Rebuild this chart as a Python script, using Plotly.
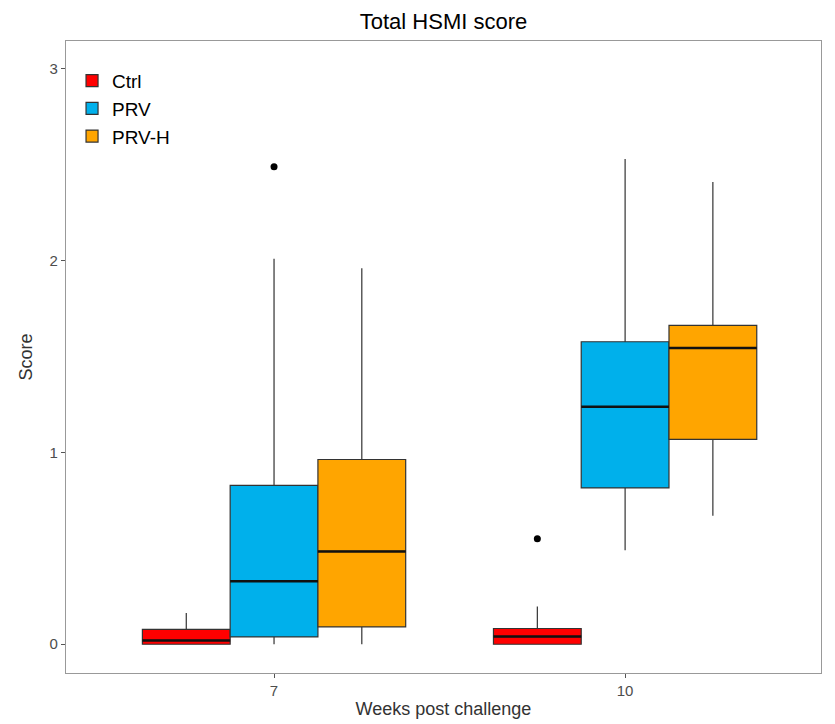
import plotly.graph_objects as go

weeks = ["7", "10"]
groups = ["Ctrl", "PRV", "PRV-H"]
colors = {"Ctrl": "#FF0000", "PRV": "#00B0EB", "PRV-H": "#FFA500"}

# stats per group, order follows weeks
lower = {"Ctrl": [0.0, 0.0], "PRV": [0.0, 0.49], "PRV-H": [0.0, 0.67]}
q1 = {"Ctrl": [0.0, 0.0], "PRV": [0.038, 0.815], "PRV-H": [0.09, 1.068]}
median = {"Ctrl": [0.02, 0.04], "PRV": [0.329, 1.238], "PRV-H": [0.484, 1.544]}
q3 = {"Ctrl": [0.077, 0.082], "PRV": [0.828, 1.577], "PRV-H": [0.963, 1.662]}
upper = {"Ctrl": [0.163, 0.197], "PRV": [2.01, 2.53], "PRV-H": [1.96, 2.41]}
outliers = {"Ctrl": [[], [0.55]], "PRV": [[2.49], []], "PRV-H": [[], []]}

dodge = 0.75
bw = dodge / len(groups)
centers = [1, 2]

fig = go.Figure()
med_x, med_y = [], []
out_x, out_y = [], []
for gi, g in enumerate(groups):
    off = (gi - (len(groups) - 1) / 2) * bw
    xs = [c + off for c in centers]
    fig.add_trace(go.Box(
        name=g, x=xs, q1=q1[g], median=median[g], q3=q3[g],
        lowerfence=lower[g], upperfence=upper[g],
        width=bw, whiskerwidth=0, boxpoints=False,
        fillcolor=colors[g], line=dict(color="#333333", width=1.2),
        marker=dict(color=colors[g]), showlegend=True,
    ))
    for i, x in enumerate(xs):
        med_x += [x - bw / 2, x + bw / 2, None]
        med_y += [median[g][i], median[g][i], None]
        for v in outliers[g][i]:
            out_x.append(x)
            out_y.append(v)

fig.add_trace(go.Scatter(x=med_x, y=med_y, mode="lines",
                         line=dict(color="#111111", width=2.5),
                         showlegend=False, hoverinfo="skip"))
fig.add_trace(go.Scatter(x=out_x, y=out_y, mode="markers",
                         marker=dict(color="black", size=7),
                         showlegend=False))

fig.update_layout(
    width=835, height=724,
    margin=dict(l=58, r=22, t=33, b=59),
    paper_bgcolor="white", plot_bgcolor="white",
    font=dict(family="Liberation Sans, Arial", color="#333333"),
    title=dict(text="Total HSMI score", x=0.5, xanchor="center",
               xref="paper", y=0.982, yanchor="middle",
               font=dict(size=22, color="black")),
    boxmode="overlay",
    legend=dict(x=0.008, y=0.967, xanchor="left", yanchor="top",
                bgcolor="rgba(0,0,0,0)", font=dict(size=19, color="black"),
                tracegroupgap=0),
    xaxis=dict(range=[0.4074, 2.558], tickmode="array", tickvals=centers,
               ticktext=weeks, showgrid=False, zeroline=False, automargin=False,
               showline=True, mirror=True, linecolor="#999999", linewidth=1.2,
               ticks="outside", ticklen=4, tickcolor="#555555",
               tickfont=dict(size=15, color="#4d4d4d"),
               title=dict(text="Weeks post challenge", font=dict(size=18, color="#333333"),
                          standoff=4)),
    yaxis=dict(range=[-0.15, 3.145], tickvals=[0, 1, 2, 3], showgrid=False,
               zeroline=False, showline=True, mirror=True, linecolor="#999999",
               automargin=False,
               linewidth=1.2, ticks="outside", ticklen=4, tickcolor="#555555",
               tickfont=dict(size=15, color="#4d4d4d"),
               title=dict(text="Score", font=dict(size=18, color="#333333"),
                          standoff=12)),
)

fig.write_html("out.html")
